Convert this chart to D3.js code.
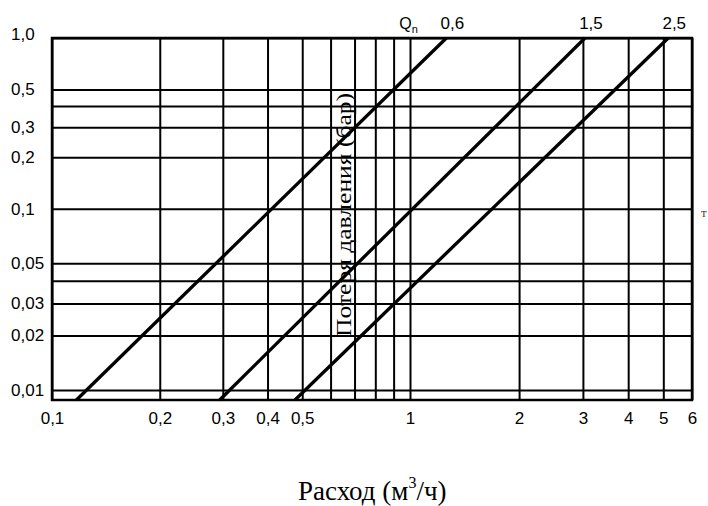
<html>
    <head>
        <meta charset='UTF-8'>
        <script src="https://d3js.org/d3.v7.min.js"></script>
        <style>
            body { margin: 0; background: white; }
            .grid .domain { display: none; }
            .grid line { stroke: #000; stroke-width: 2px; }
            .frame { fill: none; stroke: #000; stroke-width: 2.5px; }
            .curve { fill: none; stroke: #000; stroke-width: 3.3px; }
        </style>
    </head>
    <body>
        <svg id="chart" width="708" height="506"></svg>
        <script>
            // flow values (m3/h) on the x grid and their labels
            const xTicks = [0.1, 0.2, 0.3, 0.4, 0.5, 0.6, 0.7, 0.8, 0.9, 1, 2, 3, 4, 5, 6];
            const xTickLabels = ["0,1", "0,2", "0,3", "0,4", "0,5", "", "", "", "", "1", "2", "3", "4", "5", "6"];

            // pressure loss values (bar) on the y grid and their labels
            const yTicks = [0.01, 0.02, 0.03, 0.04, 0.05, 0.1, 0.2, 0.3, 0.4, 0.5, 1.0];
            const yTickLabels = ["0,01", "0,02", "0,03", "", "0,05", "0,1", "0,2", "0,3", "", "0,5", "1,0"];

            // one line per nominal flow Qn, read at the frame bottom and top
            const seriesNames = ["0,6", "1,5", "2,5"];
            const seriesQn06 = [[0.117, 0.0088], [1.26, 1.0]];
            const seriesQn15 = [[0.294, 0.0088], [3.04, 1.0]];
            const seriesQn25 = [[0.477, 0.0088], [5.16, 1.0]];

            const svg = d3.select('#chart');
            const plotLeft = 52, plotRight = 692, plotTop = 38, plotBottom = 400;
            const sans = 'Liberation Sans, Arial, sans-serif';
            const serif = 'Liberation Serif, Times New Roman, serif';

            // the scanned chart is not quite uniform, so the log scales get a middle knot
            const x = d3.scaleLog().domain([0.1, 1, 6]).range([plotLeft, 410, plotRight]);
            const y = d3.scaleLog().domain([0.0088, 0.1, 1]).range([plotBottom, 208.7, plotTop]);

            // vertical grid + x labels
            const gx = svg.append('g')
                .attr('class', 'grid')
                .attr('transform', 'translate(0,' + plotBottom + ')')
                .call(d3.axisBottom(x)
                    .tickValues(xTicks)
                    .tickSize(-(plotBottom - plotTop))
                    .tickPadding(12)
                    .tickFormat((d, i) => xTickLabels[i]));
            gx.attr('font-family', sans).attr('font-size', 17).attr('color', '#000');

            // horizontal grid + y labels (left aligned in the original)
            const gy = svg.append('g')
                .attr('class', 'grid')
                .attr('transform', 'translate(' + plotLeft + ',0)')
                .call(d3.axisLeft(y)
                    .tickValues(yTicks)
                    .tickSize(-(plotRight - plotLeft))
                    .tickFormat((d, i) => yTickLabels[i]));
            gy.attr('font-family', sans).attr('font-size', 17).attr('color', '#000');
            gy.selectAll('text').attr('text-anchor', 'start').attr('x', 11 - plotLeft);
            gy.selectAll('.tick').filter(d => d === 1).select('text').attr('dy', '0.1em');

            // frame
            svg.append('rect')
                .attr('class', 'frame')
                .attr('x', x(0.1))
                .attr('y', y(1))
                .attr('width', x(6) - x(0.1))
                .attr('height', y(0.0088) - y(1));

            // y title sits inside the plot in the source
            svg.append('text')
                .attr('transform', 'translate(351,215) rotate(-90)')
                .attr('text-anchor', 'middle')
                .attr('font-family', serif)
                .attr('font-size', 22)
                .attr('textLength', 244)
                .attr('lengthAdjust', 'spacingAndGlyphs')
                .text('Потеря давления (бар)');

            // pressure loss lines
            const line = d3.line().x(d => x(d[0])).y(d => y(d[1]));
            const allSeries = [seriesQn06, seriesQn15, seriesQn25];
            svg.selectAll('path.curve').data(allSeries)
                .join('path')
                .attr('class', 'curve')
                .attr('d', line);

            // Qn labels above the line ends
            svg.selectAll('text.qn').data(allSeries)
                .join('text')
                .attr('class', 'qn')
                .attr('x', d => x(d[1][0]) + 6)
                .attr('y', 29)
                .attr('text-anchor', 'middle')
                .attr('font-family', sans)
                .attr('font-size', 17)
                .text((d, i) => seriesNames[i]);

            const qn = svg.append('text')
                .attr('x', x(seriesQn06[1][0]) - 47)
                .attr('y', 29)
                .attr('font-family', sans)
                .attr('font-size', 16);
            qn.append('tspan').text('Q');
            qn.append('tspan').attr('font-size', 11).attr('dy', 4).text('n');

            // stray mark at the right edge of the scan
            svg.append('text')
                .attr('x', 701)
                .attr('y', 217)
                .attr('font-family', serif)
                .attr('font-size', 13)
                .attr('fill', '#444')
                .text('т');

            // x title
            const xt = svg.append('text')
                .attr('x', 298)
                .attr('y', 500)
                .attr('font-family', serif)
                .attr('font-size', 27);
            xt.append('tspan').text('Расход (м');
            xt.append('tspan').attr('font-size', 16).attr('dy', -12).text('3');
            xt.append('tspan').attr('dy', 12).text('/ч)');
        </script>
    </body>
</html>
